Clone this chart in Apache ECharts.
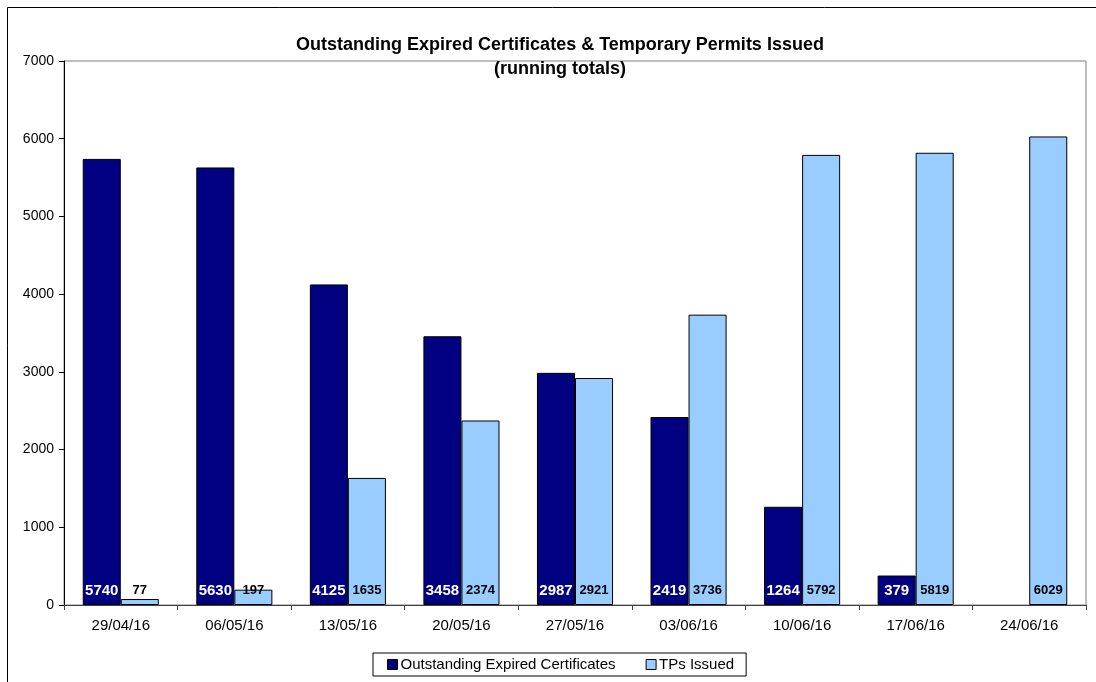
<!DOCTYPE html>
<html>
<head>
<meta charset="utf-8">
<script src="https://cdn.jsdelivr.net/npm/echarts@6/dist/echarts.min.js"></script>
<style>
  html, body { margin: 0; padding: 0; background: #fff; }
  #main { width: 1096px; height: 682px; }
</style>
</head>
<body>
<div id="main"></div>
<script>
var weeks = ['29/04/16', '06/05/16', '13/05/16', '20/05/16', '27/05/16', '03/06/16', '10/06/16', '17/06/16', '24/06/16'];
var outstanding = [5740, 5630, 4125, 3458, 2987, 2419, 1264, 379, null];
var tpsIssued = [77, 197, 1635, 2374, 2921, 3736, 5792, 5819, 6029];
var yTicks = [0, 1000, 2000, 3000, 4000, 5000, 6000, 7000];

var font = 'Arial, "Liberation Sans", sans-serif';
var myChart = echarts.init(document.getElementById('main'));

var option = {
  animation: false,
  textStyle: { fontFamily: font },
  title: {
    text: 'Outstanding Expired Certificates & Temporary Permits Issued\n(running totals)',
    left: 555,
    top: 28,
    textAlign: 'center',
    textStyle: { fontSize: 18, fontWeight: 'bold', color: '#000', lineHeight: 24, fontFamily: font }
  },
  graphic: [{
    type: 'rect',
    shape: { x: 7.5, y: 7.5, width: 1200, height: 800 },
    style: { fill: 'none', stroke: '#000', lineWidth: 1 },
    silent: true
  }],
  legend: {
    top: 653,
    left: 373,
    padding: [4, 12, 4, 14],
    itemGap: 30,
    itemWidth: 10,
    itemHeight: 10,
    icon: 'rect',
    borderColor: '#000',
    borderWidth: 1,
    textStyle: { fontSize: 15, color: '#000', fontFamily: font, padding: [0, 0, 0, -2] },
    itemStyle: { borderColor: '#000', borderWidth: 1 },
    data: ['Outstanding Expired Certificates', 'TPs Issued']
  },
  grid: {
    left: 64,
    right: 10,
    top: 61,
    bottom: 77,
    show: true,
    borderColor: '#808080',
    borderWidth: 1
  },
  xAxis: {
    type: 'category',
    data: weeks,
    axisLine: { lineStyle: { color: '#404040' } },
    axisTick: { show: true, alignWithLabel: false, length: 5, lineStyle: { color: '#404040' } },
    axisLabel: { fontSize: 15, color: '#000', margin: 13, fontFamily: font },
    splitLine: { show: false }
  },
  yAxis: {
    type: 'value',
    min: yTicks[0],
    max: yTicks[yTicks.length - 1],
    interval: 1000,
    axisLine: { show: true, lineStyle: { color: '#000' } },
    axisTick: { show: true, inside: false, length: 5, lineStyle: { color: '#000' } },
    axisLabel: { fontSize: 14, color: '#000', margin: 10, fontFamily: font, formatter: function (v) { return String(v); } },
    splitLine: { show: false }
  },
  series: [
    {
      name: 'Outstanding Expired Certificates',
      type: 'bar',
      data: outstanding,
      barGap: '0%',
      barCategoryGap: '33%',
      itemStyle: { color: '#000080', borderColor: '#000', borderWidth: 1 },
      label: {
        show: true,
        position: 'insideBottom',
        distance: 7,
        color: '#fff',
        fontWeight: 'bold',
        fontSize: 15,
        fontFamily: font
      }
    },
    {
      name: 'TPs Issued',
      type: 'bar',
      data: tpsIssued,
      itemStyle: { color: '#99CCFF', borderColor: '#000', borderWidth: 1 },
      label: {
        show: true,
        position: 'insideBottom',
        distance: 8,
        color: '#000',
        fontWeight: 'bold',
        fontSize: 13,
        fontFamily: font
      }
    }
  ]
};

myChart.setOption(option);
</script>
</body>
</html>
